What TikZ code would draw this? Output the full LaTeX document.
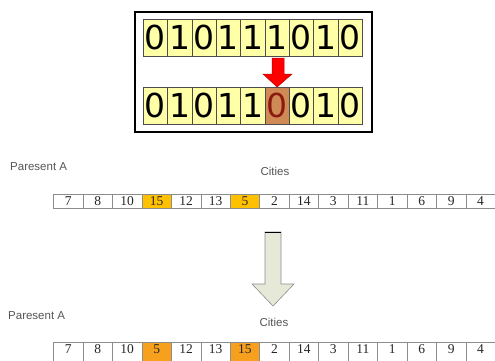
\documentclass[tikz,border=0pt]{standalone}
\usepackage{fontspec}
\usetikzlibrary{calc}
\setmainfont{Liberation Serif}
\newfontfamily\labelfont{Liberation Sans}
\newfontfamily\bitfont{DejaVu Sans}
\definecolor{bityellow}{HTML}{FFFFA8}
\definecolor{bitmark}{HTML}{D08A55}
\definecolor{bitmarktext}{HTML}{8B1A10}
\definecolor{goldcell}{HTML}{FFC000}
\definecolor{orangecell}{HTML}{F7A01E}
\definecolor{arrowfill}{HTML}{E6E8D8}
\definecolor{labelgray}{HTML}{555555}
\begin{document}
\begin{tikzpicture}[x=1pt,y=-1pt,
  bitcell/.style={draw=black!70,line width=0.6pt,fill=bityellow,minimum width=24.33pt,minimum height=37pt,inner sep=0pt,anchor=north west,font=\bitfont\fontsize{33}{33}\selectfont},
  bitmarked/.style={bitcell,fill=bitmark,text=bitmarktext},
  citycell/.style={draw=black!45,line width=0.5pt,fill=white,minimum width=29.45pt,minimum height=14pt,inner sep=0pt,anchor=north west,font=\fontsize{13.5}{13.5}\selectfont,text=black!85},
  citytall/.style={citycell,minimum height=20pt,text depth=6pt},
  lbl/.style={font=\labelfont\fontsize{11.5}{12}\selectfont,text=labelgray,inner sep=0pt}
]
\useasboundingbox (0,0) rectangle (495,360);
\clip (0,0) rectangle (495,360);
% framed box
\node[draw=black,line width=2pt,minimum width=237pt,minimum height=120pt,anchor=north west,inner sep=0pt] (frame) at (134,11) {};
% upper bit row
\foreach \b [count=\i from 0] in {0,1,0,1,1,1,0,1,0} {
  \node[bitcell] (u\i) at (143+\i*24.33,19) {\b};
}
% lower bit row
\foreach \b [count=\i from 0] in {0,1,0,1,1,0,0,1,0} {
  \ifnum\i=5
    \node[bitmarked] (l\i) at (143+\i*24.33,87) {\b};
  \else
    \node[bitcell] (l\i) at (143+\i*24.33,87) {\b};
  \fi
}
% red arrow
\coordinate (ra) at (278,58);
\draw[draw=red!70!black,line width=0.5pt,fill=red]
  ($(ra)+(-6,0)$) -- ($(ra)+(6,0)$) -- ($(ra)+(6,16)$) -- ($(ra)+(14,16)$) -- (l5.north) -- ($(ra)+(-15,16)$) -- ($(ra)+(-6,16)$) -- cycle;
% labels first block
\node[lbl,anchor=west] (pa1) at (10,167) {Paresent A};
\node[lbl] (ci1) at (275,171) {Cities};
\foreach \n [count=\i from 0] in {7,8,10,15,12,13,5,2,14,3,11,1,6,9,4} {
  \ifnum\i=3 \def\cf{goldcell}\else\ifnum\i=6 \def\cf{goldcell}\else\def\cf{white}\fi\fi
  \node[citycell,fill=\cf] (a\i) at (53.3+\i*29.45,193.5) {\n};
}
% gray arrow
\coordinate (ga) at (273,232);
\coordinate (gtip) at (273,306);
\draw[draw=black!45,line width=0.6pt,fill=arrowfill]
  ($(ga)+(-8,0)$) -- ($(ga)+(8,0)$) -- ($(ga)+(8,52)$) -- ($(ga)+(21,52)$) -- (gtip) -- ($(ga)+(-21,52)$) -- ($(ga)+(-8,52)$) -- cycle;
\draw[line width=1.2pt] ($(ga)+(-8,0.3)$) -- ($(ga)+(8,0.3)$);
% labels second block
\node[lbl,anchor=west] (pa2) at (8,316) {Paresent A};
\node[lbl] (ci2) at (274,322) {Cities};
\foreach \n [count=\i from 0] in {7,8,10,5,12,13,15,2,14,3,11,1,6,9,4} {
  \ifnum\i=3 \def\cf{orangecell}\else\ifnum\i=6 \def\cf{orangecell}\else\def\cf{white}\fi\fi
  \node[citytall,fill=\cf] (b\i) at (53.3+\i*29.45,342) {\n};
}
\end{tikzpicture}
\end{document}
